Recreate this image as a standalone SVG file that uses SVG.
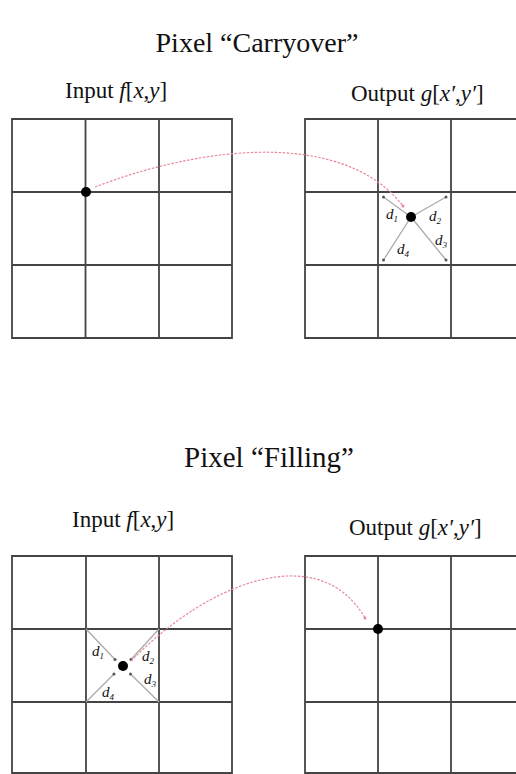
<svg xmlns="http://www.w3.org/2000/svg" width="516" height="774" viewBox="0 0 516 774">
<style>
.t{font-family:"Liberation Serif","Times New Roman",serif;fill:#111}
.title{font-size:28px}
.lab{font-size:23px}
.d{font-size:15px;font-style:italic}
.g{fill:none;stroke:#444;stroke-width:1.8}
.sp{stroke:#aaa;stroke-width:1.3}
.red{fill:none;stroke:#e8889a;stroke-width:1.2;stroke-dasharray:2.5 1.5}
</style>
<defs>
<marker id="tip" viewBox="0 0 4 4" refX="2" refY="2" markerWidth="4" markerHeight="4" markerUnits="userSpaceOnUse"><circle cx="2" cy="2" r="1.5" fill="#555"/></marker>
<marker id="rtip" viewBox="0 0 4 4" refX="2" refY="2" markerWidth="4" markerHeight="4" markerUnits="userSpaceOnUse"><circle cx="2" cy="2" r="1.5" fill="#e8889a"/></marker>
</defs>
<rect width="516" height="774" fill="#fff"/>

<text class="t title" x="257" y="52" text-anchor="middle">Pixel “Carryover”</text>
<text class="t title" x="269" y="467" font-size="29" text-anchor="middle" style="font-size:29px">Pixel “Filling”</text>

<g id="in1">
<text class="t lab" x="65" y="98">Input <tspan font-style="italic">f</tspan>[<tspan font-style="italic">x</tspan>,<tspan font-style="italic">y</tspan>]</text>
<path class="g" d="M12,119H232V338H12Z M85.5,119V338 M159,119V338 M12,192H232 M12,265H232"/>
<circle cx="86" cy="192" r="5" fill="#000"/>
</g>

<g id="out1">
<text class="t lab" x="351" y="101">Output <tspan font-style="italic">g</tspan>[<tspan font-style="italic">x′</tspan>,<tspan font-style="italic">y′</tspan>]</text>
<path class="g" d="M517,119H305V338H517 M378,119V338 M451,119V338 M305,192H517 M305,265H517"/>
<line class="sp" x1="411" y1="217" x2="383.5" y2="197" marker-end="url(#tip)"/>
<line class="sp" x1="411" y1="217" x2="446" y2="197" marker-end="url(#tip)"/>
<line class="sp" x1="411" y1="217" x2="383.5" y2="260" marker-end="url(#tip)"/>
<line class="sp" x1="411" y1="217" x2="446" y2="260" marker-end="url(#tip)"/>
<circle cx="411" cy="217" r="5" fill="#000"/>
<text class="t d" x="386" y="219">d<tspan font-size="9" dy="3">1</tspan></text>
<text class="t d" x="429" y="221">d<tspan font-size="9" dy="3">2</tspan></text>
<text class="t d" x="435" y="245">d<tspan font-size="9" dy="3">3</tspan></text>
<text class="t d" x="397" y="254">d<tspan font-size="9" dy="3">4</tspan></text>
</g>

<g id="in2">
<text class="t lab" x="72" y="527">Input <tspan font-style="italic">f</tspan>[<tspan font-style="italic">x</tspan>,<tspan font-style="italic">y</tspan>]</text>
<path class="g" d="M12,556H232V773H12Z M86,556V773 M159,556V773 M12,629H232 M12,702H232"/>
<line class="sp" x1="86" y1="629" x2="115" y2="659.5" marker-end="url(#tip)"/>
<line class="sp" x1="159" y1="629" x2="131" y2="659.5" marker-end="url(#tip)"/>
<line class="sp" x1="86" y1="702" x2="114" y2="674" marker-end="url(#tip)"/>
<line class="sp" x1="159" y1="702" x2="130.5" y2="674" marker-end="url(#tip)"/>
<circle cx="123" cy="666" r="5" fill="#000"/>
<text class="t d" x="92" y="656">d<tspan font-size="9" dy="3">1</tspan></text>
<text class="t d" x="142" y="661">d<tspan font-size="9" dy="3">2</tspan></text>
<text class="t d" x="144" y="684">d<tspan font-size="9" dy="3">3</tspan></text>
<text class="t d" x="102" y="697">d<tspan font-size="9" dy="3">4</tspan></text>
</g>

<g id="out2">
<text class="t lab" x="349" y="535">Output <tspan font-style="italic">g</tspan>[<tspan font-style="italic">x′</tspan>,<tspan font-style="italic">y′</tspan>]</text>
<path class="g" d="M517,556H305V773H517 M378,556V773 M451,556V773 M305,629H517 M305,702H517"/>
<circle cx="378" cy="629" r="5" fill="#000"/>
</g>

<g id="connectors">
<path class="red" d="M95,187 C190,150 340,125 403,206" marker-end="url(#rtip)"/>
<path class="red" d="M131,661 C210,580 320,540 365,618" marker-end="url(#rtip)"/>
</g>
</svg>
